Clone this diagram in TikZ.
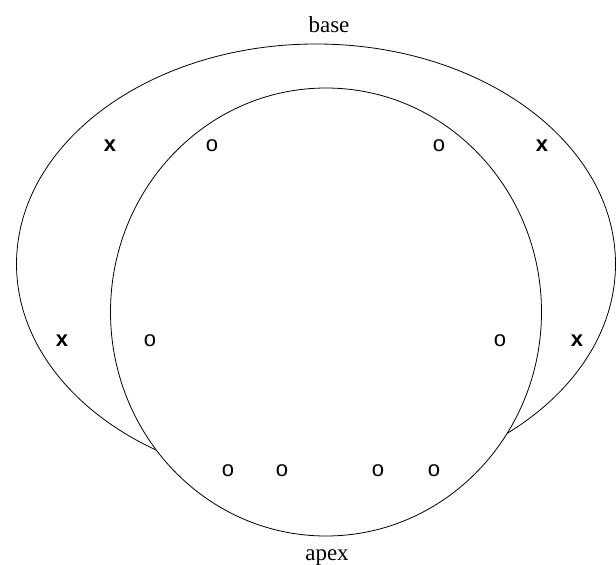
\documentclass[tikz,border=0pt]{standalone}
\usepackage{fontspec}
\setmainfont{Liberation Serif}
\newfontfamily\marksans{Liberation Sans}
\usetikzlibrary{positioning}

\begin{document}
\begin{tikzpicture}[
  x=1pt, y=-1pt,
  rim/.style={draw, line width=0.8pt},
  lbl/.style={font=\fontsize{23}{26}\selectfont, inner sep=0pt, anchor=base},
  cross/.style={font=\marksans\bfseries\fontsize{22}{24}\selectfont, inner sep=0pt},
  hole/.style={font=\marksans\fontsize{22}{24}\selectfont, inner sep=0pt},
]
\useasboundingbox (0,0) rectangle (616,565);

% --- outer shell and inner cavity ---
\draw[rim] (316,264) ellipse [x radius=299.5pt, y radius=220pt];
\draw[rim, fill=white] (326,312) ellipse [x radius=215.5pt, y radius=224pt];

\node[lbl] (base) at (329,32) {base};
\node[lbl] (apex) at (327,560) {apex};

% --- outer marks ---
\node[cross] (x1) at (110,146) {x};
\node[cross] (x2) at (542,146) {x};
\node[cross] (x3) at (62,341)  {x};
\node[cross] (x4) at (577,341) {x};

% --- inner marks ---
\node[hole] (o1) at (212,146) {o};
\node[hole] (o2) at (439,146) {o};
\node[hole] (o3) at (150,341) {o};
\node[hole] (o4) at (500,341) {o};
\node[hole] (o5) at (228,471) {o};
\node[hole] (o6) at (282,471) {o};
\node[hole] (o7) at (378,471) {o};
\node[hole] (o8) at (434,471) {o};

\end{tikzpicture}
\end{document}
